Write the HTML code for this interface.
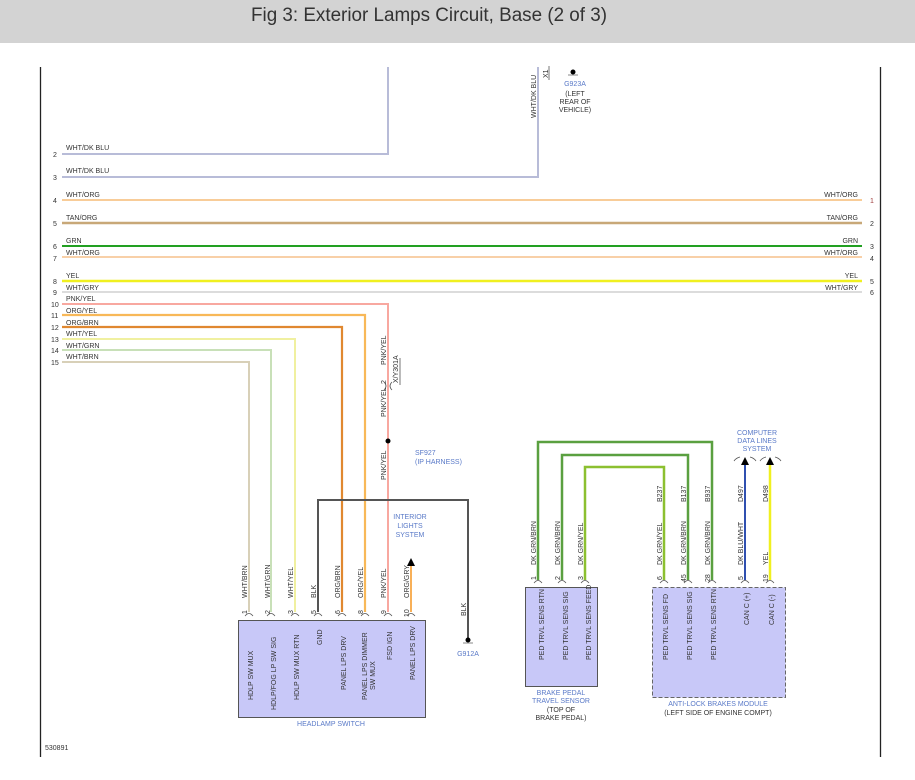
<!DOCTYPE html>
<html><head><meta charset="utf-8"><style>
html,body{margin:0;padding:0;background:#fff;width:915px;height:780px;overflow:hidden}
svg text{font-family:"Liberation Sans",sans-serif}
</style></head><body>
<svg width="915" height="780" viewBox="0 0 915 780" xmlns="http://www.w3.org/2000/svg">
<rect x="0" y="0" width="915" height="43" fill="#d3d3d3"/>
<text x="251" y="21" font-size="19" fill="#333" textLength="356" lengthAdjust="spacingAndGlyphs">Fig 3: Exterior Lamps Circuit, Base (2 of 3)</text>
<line x1="40.5" y1="67" x2="40.5" y2="757" stroke="#222" stroke-width="1.3"/>
<line x1="880.5" y1="67" x2="880.5" y2="757" stroke="#222" stroke-width="1.3"/>
<text x="45" y="750" font-size="7" fill="#333">530891</text>

<g fill="none" stroke-width="2">
<polyline points="62,154 388,154 388,67" stroke="#b8bcd8"/>
<polyline points="62,177 538,177 538,67" stroke="#b8bcd8"/>
<line x1="62" y1="200" x2="862" y2="200" stroke="#f8cc98"/>
<line x1="62" y1="223" x2="862" y2="223" stroke="#c8a878" stroke-width="2.5"/>
<line x1="62" y1="246" x2="862" y2="246" stroke="#22a022"/>
<line x1="62" y1="257" x2="862" y2="257" stroke="#f8d0a8"/>
<line x1="62" y1="281" x2="862" y2="281" stroke="#f0f020" stroke-width="2.5"/>
<line x1="62" y1="292" x2="862" y2="292" stroke="#dcdcdc"/>
<polyline points="62,304 388,304 388,612" stroke="#f8a8a0"/>
<polyline points="62,315 365,315 365,612" stroke="#f8b858" stroke-width="2.2"/>
<polyline points="62,327 342,327 342,612" stroke="#e08830" stroke-width="2.2"/>
<polyline points="62,339 295,339 295,612" stroke="#f0f0a0"/>
<polyline points="62,350 271,350 271,612" stroke="#c8e0b8"/>
<polyline points="62,362 249,362 249,612" stroke="#d8d0b8"/>
<polyline points="318,612 318,500 468,500 468,638" stroke="#555"/>
<line x1="411" y1="612" x2="411" y2="565" stroke="#f8b058"/>
<polyline points="538,580 538,442 712,442 712,580" stroke="#5aa040" stroke-width="2.5"/>
<polyline points="562,580 562,455 688,455 688,580" stroke="#5aa040" stroke-width="2.5"/>
<polyline points="585,580 585,467 664,467 664,580" stroke="#8cc030" stroke-width="2.5"/>
<line x1="745" y1="580" x2="745" y2="465" stroke="#3050b0"/>
<line x1="770" y1="580" x2="770" y2="465" stroke="#f0f020" stroke-width="2.5"/>
</g>
<polygon points="411,558 407,566 415,566" fill="#000"/>
<polygon points="745,457 741,465 749,465" fill="#000"/>
<polygon points="770,457 766,465 774,465" fill="#000"/>
<path d="M734,461 Q736,458 740,457 M750,457 Q754,458 756,461 M760,461 Q762,458 766,457 M775,457 Q779,458 781,461" stroke="#555" fill="none" stroke-width="0.8"/>
<circle cx="388" cy="441" r="2.5" fill="#000"/>
<circle cx="468" cy="640" r="2.5" fill="#000"/>
<line x1="463" y1="643" x2="473" y2="643" stroke="#888"/>
<circle cx="573" cy="72" r="2.5" fill="#000"/>
<line x1="568" y1="75" x2="578" y2="75" stroke="#888"/>

<g font-size="7" fill="#333">
<text x="66" y="150">WHT/DK BLU</text><text x="53" y="157">2</text>
<text x="66" y="173">WHT/DK BLU</text><text x="53" y="180">3</text>
<text x="66" y="197">WHT/ORG</text><text x="53" y="203">4</text>
<text x="66" y="220">TAN/ORG</text><text x="53" y="226">5</text>
<text x="66" y="243">GRN</text><text x="53" y="249">6</text>
<text x="66" y="255">WHT/ORG</text><text x="53" y="261">7</text>
<text x="66" y="278">YEL</text><text x="53" y="284">8</text>
<text x="66" y="290">WHT/GRY</text><text x="53" y="295">9</text>
<text x="66" y="301">PNK/YEL</text><text x="51" y="307">10</text>
<text x="66" y="313">ORG/YEL</text><text x="51" y="318">11</text>
<text x="66" y="325">ORG/BRN</text><text x="51" y="330">12</text>
<text x="66" y="336">WHT/YEL</text><text x="51" y="342">13</text>
<text x="66" y="348">WHT/GRN</text><text x="51" y="353">14</text>
<text x="66" y="359">WHT/BRN</text><text x="51" y="365">15</text>
<g text-anchor="end">
<text x="858" y="197">WHT/ORG</text><text x="858" y="220">TAN/ORG</text><text x="858" y="243">GRN</text><text x="858" y="255">WHT/ORG</text><text x="858" y="278">YEL</text><text x="858" y="290">WHT/GRY</text>
</g>
<text x="870" y="203" fill="#a04040">1</text><text x="870" y="226">2</text><text x="870" y="249">3</text><text x="870" y="261">4</text><text x="870" y="284">5</text><text x="870" y="295">6</text>
</g>
<g font-size="7" fill="#5a7ac8" text-anchor="middle">
<text x="575" y="86">G923A</text>
<text x="575" y="96" fill="#333">(LEFT</text><text x="575" y="104" fill="#333">REAR OF</text><text x="575" y="112" fill="#333">VEHICLE)</text>
<text x="415" y="455" text-anchor="start">SF927</text><text x="415" y="464" text-anchor="start">(IP HARNESS)</text>
<text x="410" y="519">INTERIOR</text><text x="410" y="528">LIGHTS</text><text x="410" y="537">SYSTEM</text>
<text x="468" y="656">G912A</text>
<text x="757" y="435">COMPUTER</text><text x="757" y="443">DATA LINES</text><text x="757" y="451">SYSTEM</text>
<text x="331" y="726">HEADLAMP SWITCH</text>
<text x="561" y="695">BRAKE PEDAL</text><text x="561" y="703">TRAVEL SENSOR</text><text x="561" y="712" fill="#333">(TOP OF</text><text x="561" y="720" fill="#333">BRAKE PEDAL)</text>
<text x="718" y="706">ANTI-LOCK BRAKES MODULE</text><text x="718" y="715" fill="#333">(LEFT SIDE OF ENGINE COMPT)</text>
</g>

<rect x="238.5" y="620.5" width="187" height="97" fill="#c8c8f8" stroke="#555"/>
<rect x="525.5" y="587.5" width="72" height="99" fill="#c8c8f8" stroke="#555"/>
<rect x="652.5" y="587.5" width="133" height="110" fill="#c8c8f8" stroke="#666" stroke-dasharray="4,2"/>

<g font-size="7" fill="#333">
<g transform="rotate(-90)">
<text x="-118" y="536">WHT/DK BLU</text>
<text x="-78" y="548">X1</text>
<text x="-365" y="386">PNK/YEL</text>
<text x="-417" y="386">PNK/YEL</text>
<text x="-480" y="386">PNK/YEL</text>
<text x="-383" y="398">X/Y301A</text>
<text x="-384" y="386">2</text>
<!-- headlamp wire labels -->
<text x="-598" y="247">WHT/BRN</text>
<text x="-598" y="270">WHT/GRN</text>
<text x="-598" y="293">WHT/YEL</text>
<text x="-598" y="316">BLK</text>
<text x="-598" y="340">ORG/BRN</text>
<text x="-598" y="363">ORG/YEL</text>
<text x="-598" y="386">PNK/YEL</text>
<text x="-598" y="409">ORG/GRY</text>
<text x="-616" y="466">BLK</text>
<text x="-614" y="247">1</text><text x="-614" y="270">2</text><text x="-614" y="293">3</text><text x="-614" y="316">5</text><text x="-614" y="340">6</text><text x="-614" y="363">8</text><text x="-614" y="386">9</text><text x="-617" y="409">10</text>
<text x="-700" y="253">HDLP SW MUX</text>
<text x="-710" y="276">HDLP/FOG LP SW SIG</text>
<text x="-700" y="299">HDLP SW MUX RTN</text>
<text x="-645" y="322">GND</text>
<text x="-690" y="346">PANEL LPS DRV</text>
<text x="-700" y="367">PANEL LPS DIMMER</text><text x="-690" y="375">SW MUX</text>
<text x="-660" y="392">FSD IGN</text>
<text x="-680" y="415">PANEL LPS DRV</text>
<!-- brake -->
<text x="-565" y="536">DK GRN/BRN</text>
<text x="-565" y="560">DK GRN/BRN</text>
<text x="-565" y="583">DK GRN/YEL</text>
<text x="-580" y="536">1</text><text x="-580" y="560">2</text><text x="-580" y="583">3</text>
<text x="-660" y="544">PED TRVL SENS RTN</text>
<text x="-660" y="568">PED TRVL SENS SIG</text>
<text x="-660" y="591">PED TRVL SENS FEED</text>
<!-- ABS -->
<text x="-565" y="662">DK GRN/YEL</text>
<text x="-565" y="686">DK GRN/BRN</text>
<text x="-565" y="710">DK GRN/BRN</text>
<text x="-565" y="743">DK BLU/WHT</text>
<text x="-565" y="768">YEL</text>
<text x="-502" y="662">B237</text><text x="-502" y="686">B137</text><text x="-502" y="710">B937</text><text x="-502" y="743">D497</text><text x="-502" y="768">D498</text>
<text x="-580" y="662">6</text><text x="-582" y="686">45</text><text x="-582" y="710">28</text><text x="-580" y="743">5</text><text x="-582" y="768">19</text>
<text x="-660" y="668">PED TRVL SENS FD</text>
<text x="-660" y="692">PED TRVL SENS SIG</text>
<text x="-660" y="716">PED TRVL SENS RTN</text>
<text x="-625" y="749">CAN C (+)</text>
<text x="-625" y="774">CAN C (-)</text>
</g>
</g>
<g stroke="#555" fill="none" stroke-width="0.8">
<path d="M245,616 Q249,611 253,616 M267,616 Q271,611 275,616 M291,616 Q295,611 299,616 M314,616 Q318,611 322,616 M338,616 Q342,611 346,616 M361,616 Q365,611 369,616 M384,616 Q388,611 392,616 M407,616 Q411,611 415,616"/>
<path d="M534,583 Q538,578 542,583 M558,583 Q562,578 566,583 M581,583 Q585,578 589,583 M660,583 Q664,578 668,583 M684,583 Q688,578 692,583 M708,583 Q712,578 716,583 M741,583 Q745,578 749,583 M766,583 Q770,578 774,583"/>
<path d="M384,382 Q388,386 384,390 M392,382 Q388,386 392,390"/>
<line x1="400" y1="358" x2="400" y2="385"/>
<line x1="549" y1="66" x2="549" y2="80"/>
</g>
</svg>
</body></html>
